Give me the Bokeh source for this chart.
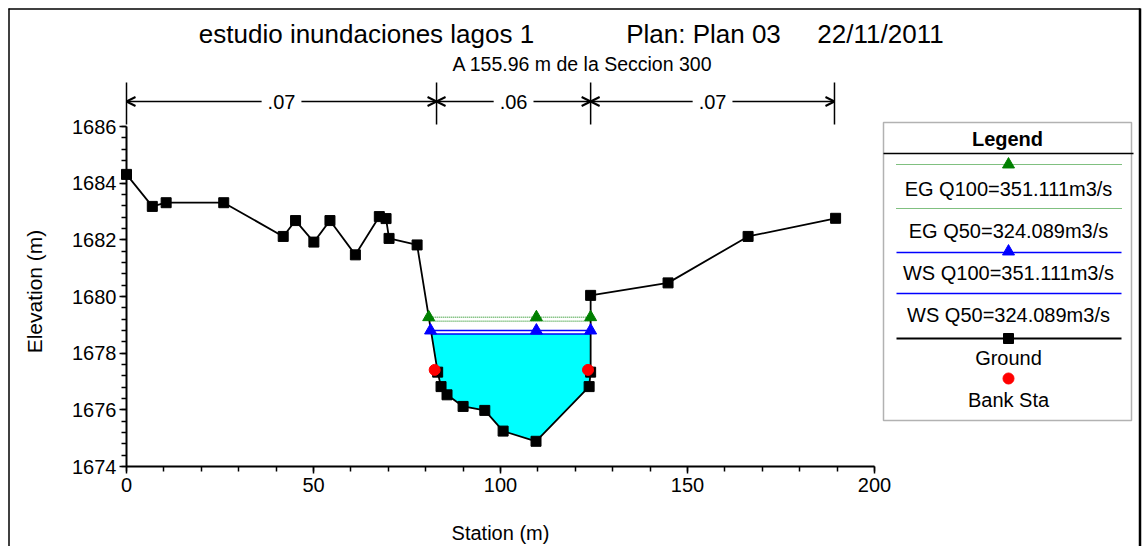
from math import pi
from bokeh.plotting import figure
from bokeh.models import (Range1d, LinearAxis, SingleIntervalTicker, Label, Arrow,
                          OpenHead, BoxAnnotation)
from bokeh.embed import file_html
from bokeh.resources import INLINE

# ---------------- data ----------------
ground_sta = [0.0, 6.9, 10.6, 26.0, 41.9, 45.2, 50.1, 54.4, 61.2, 67.6, 69.4, 70.2,
              77.7, 83.2, 84.1, 85.7, 90.0, 95.8, 100.7, 109.5, 123.7, 124.1, 124.1,
              144.8, 166.2, 189.6]
ground_elev = [1684.31, 1683.18, 1683.31, 1683.31, 1682.12, 1682.68, 1681.92, 1682.68,
               1681.47, 1682.82, 1682.75, 1682.05, 1681.82, 1677.33, 1676.82, 1676.53,
               1676.12, 1675.98, 1675.25, 1674.89, 1676.82, 1677.33, 1680.04, 1680.48,
               1682.12, 1682.76]
bank_sta = [82.4, 123.4]
bank_elev = [1677.41, 1677.41]

q100 = 351.111
q50 = 324.089
eg_q100_sta = [80.8, 109.6, 124.1]
eg_q100_elev = 1679.27
eg_q50_sta = [81.0, 124.1]
eg_q50_elev = 1679.13
ws_q100_sta = [81.3, 109.6, 124.1]
ws_q100_elev = 1678.80
ws_q50_sta = [81.5, 124.1]
ws_q50_elev = 1678.68

n_sta = [0.0, 82.9, 124.1, 189.3]
n_vals = [0.07, 0.06, 0.07]

x_tick_step = 50
y_tick_step = 2
x_bounds = (0, 200)
y_bounds = (1674, 1686)

title_parts = ["estudio inundaciones lagos 1", "Plan: Plan 03", "22/11/2011"]
subtitle = "A 155.96 m de la Seccion 300"
x_title = "Station (m)"
y_title = "Elevation (m)"

# ---------------- layout helpers (page pixel -> data) ----------------
W, H = 1142, 546
X0_PX, X1_PX = 126, 874
Y0_PX, Y1_PX = 466, 126
sx = (X1_PX - X0_PX) / (x_bounds[1] - x_bounds[0])
sy = (Y0_PX - Y1_PX) / (y_bounds[1] - y_bounds[0])


def dx(px):
    return x_bounds[0] + (px - X0_PX) / sx


def dy(py):
    return y_bounds[0] + (Y0_PX - py) / sy


FONT = "Liberation Sans"
TXT = "black"

p = figure(width=W, height=H, x_range=Range1d(dx(0), dx(W)),
           y_range=Range1d(dy(H), dy(0)), x_axis_type=None, y_axis_type=None,
           toolbar_location=None, output_backend="svg", min_border=0, title=None)
p.outline_line_color = None
p.background_fill_color = "white"
p.border_fill_color = "white"

# axes
xaxis = LinearAxis(fixed_location=y_bounds[0], bounds=x_bounds,
                   ticker=SingleIntervalTicker(interval=x_tick_step, num_minor_ticks=5))
yaxis = LinearAxis(fixed_location=x_bounds[0], bounds=y_bounds,
                   ticker=SingleIntervalTicker(interval=y_tick_step, num_minor_ticks=5))
for ax in (xaxis, yaxis):
    ax.axis_line_width = 2
    ax.axis_line_color = "black"
    ax.major_tick_line_width = 1.5
    ax.minor_tick_line_width = 1.5
    ax.major_tick_line_color = "black"
    ax.minor_tick_line_color = "black"
    ax.major_tick_in = 0
    ax.minor_tick_in = 0
    ax.major_tick_out = 7
    ax.minor_tick_out = 5
    ax.major_label_text_font = FONT
    ax.major_label_text_font_size = "20px"
    ax.major_label_text_color = TXT
xaxis.major_label_standoff = 4
yaxis.major_label_standoff = 3
p.add_layout(xaxis, "below")
p.add_layout(yaxis, "left")

# water fill (ground below WS Q50)
fill_x = [ws_q50_sta[0]]
fill_y = [ws_q50_elev]
for s, e in zip(ground_sta, ground_elev):
    if ws_q50_sta[0] < s <= ws_q50_sta[-1] and e <= ws_q50_elev:
        fill_x.append(s)
        fill_y.append(e)
fill_x.append(ws_q50_sta[-1])
fill_y.append(ws_q50_elev)
p.patch(fill_x, fill_y, fill_color="#00FFFF", line_color=None)

GREEN = "#008000"
BLUE = "#0000FF"

# energy grade lines
p.line(eg_q100_sta, [eg_q100_elev] * len(eg_q100_sta), line_color=GREEN, line_dash="1 1", line_width=1)
p.line(eg_q50_sta, [eg_q50_elev] * len(eg_q50_sta), line_color=GREEN, line_dash="1 1", line_width=1)
# water surfaces
p.line(ws_q100_sta, [ws_q100_elev] * len(ws_q100_sta), line_color=BLUE, line_width=1.5)
p.line(ws_q50_sta, [ws_q50_elev] * len(ws_q50_sta), line_color=BLUE, line_width=1.5)

# ground
p.line(ground_sta, ground_elev, line_color="black", line_width=1.8)
p.scatter(ground_sta, ground_elev, marker="square", size=10, fill_color="black", line_color="black")

p.scatter(eg_q100_sta, [eg_q100_elev] * len(eg_q100_sta), marker="triangle", size=12,
          fill_color=GREEN, line_color=GREEN)
p.scatter(ws_q100_sta, [ws_q100_elev] * len(ws_q100_sta), marker="triangle", size=12,
          fill_color=BLUE, line_color=BLUE)

# bank stations
p.scatter(bank_sta, bank_elev, marker="circle", size=11, fill_color="red", line_color="red")

# roughness (Manning n) markers
n_top, n_bot, n_mid = dy(82), dy(124), dy(101)
p.segment(x0=n_sta, y0=[n_top] * len(n_sta), x1=n_sta, y1=[n_bot] * len(n_sta),
          line_color="black", line_width=1.5)
for i, v in enumerate(n_vals):
    p.add_layout(Arrow(x_start=n_sta[i], y_start=n_mid, x_end=n_sta[i + 1], y_end=n_mid,
                       start=OpenHead(size=9, line_width=2), end=OpenHead(size=9, line_width=2),
                       line_width=1.5, line_color="black"))
    p.add_layout(Label(x=(n_sta[i] + n_sta[i + 1]) / 2, y=n_mid, text=f"{v:.2f}".lstrip("0"),
                       text_align="center", text_baseline="middle", text_font=FONT, text_color=TXT,
                       text_font_size="20px", background_fill_color="white", padding=6))

# titles
for text, cx in zip(title_parts, [366, 703, 880]):
    p.add_layout(Label(x=dx(cx), y=dy(33), text=text, text_align="center", text_color=TXT,
                       text_baseline="middle", text_font=FONT, text_font_size="26px"))
p.add_layout(Label(x=dx(582), y=dy(63), text=subtitle, text_align="center", text_color=TXT,
                   text_baseline="middle", text_font=FONT, text_font_size="19.5px"))
p.add_layout(Label(x=dx(500), y=dy(532), text=x_title, text_align="center", text_color=TXT,
                   text_baseline="middle", text_font=FONT, text_font_size="20px"))
p.add_layout(Label(x=dx(34), y=dy(291), text=y_title, text_align="center", angle=pi / 2,
                   text_color=TXT, text_baseline="middle", text_font=FONT, text_font_size="21px"))

# legend (drawn manually)
p.add_layout(BoxAnnotation(left=dx(883), right=dx(1131), top=dy(122), bottom=dy(420),
                           fill_color=None, line_color="black", line_width=1.5))
p.segment(x0=[dx(883)], y0=[dy(153)], x1=[dx(1133)], y1=[dy(153)], line_color="black", line_width=1.5)
p.add_layout(Label(x=dx(1007), y=dy(138), text="Legend", text_align="center", text_baseline="middle",
                   text_font=FONT, text_font_size="20px", text_font_style="bold", text_color=TXT))
LX0, LX1, LXC = dx(896), dx(1121), dx(1008)
leg_lines = [(164, GREEN, "1 1", 1), (208, GREEN, "1 1", 1), (252, BLUE, "solid", 1.5),
             (293, BLUE, "solid", 1.5), (338, "black", "solid", 1.8)]
for yy, col, dash, lw in leg_lines:
    p.line([LX0, LX1], [dy(yy), dy(yy)], line_color=col, line_dash=dash, line_width=lw)
p.scatter([LXC], [dy(164)], marker="triangle", size=12, fill_color=GREEN, line_color=GREEN)
p.scatter([LXC], [dy(251)], marker="triangle", size=12, fill_color=BLUE, line_color=BLUE)
p.scatter([LXC], [dy(338)], marker="square", size=10, fill_color="black", line_color="black")
p.scatter([LXC], [dy(378)], marker="circle", size=11, fill_color="red", line_color="red")
leg_texts = [(188, f"EG Q100={q100:.3f}m3/s"), (230, f"EG Q50={q50:.3f}m3/s"),
             (272, f"WS Q100={q100:.3f}m3/s"), (314, f"WS Q50={q50:.3f}m3/s"),
             (357, "Ground"), (399, "Bank Sta")]
for yy, t in leg_texts:
    p.add_layout(Label(x=LXC, y=dy(yy), text=t, text_align="center", text_baseline="middle",
                       text_font=FONT, text_font_size="20px", text_color=TXT))

# outer border
p.segment(x0=[dx(8.5), dx(8), dx(1139.5)], y0=[dy(8), dy(8.5), dy(8)],
          x1=[dx(8.5), dx(1140), dx(1139.5)], y1=[dy(546), dy(8.5), dy(546)],
          line_color="black", line_width=[1.5, 1.5, 2.5])

open("out.html", "w").write(file_html(p, INLINE))
